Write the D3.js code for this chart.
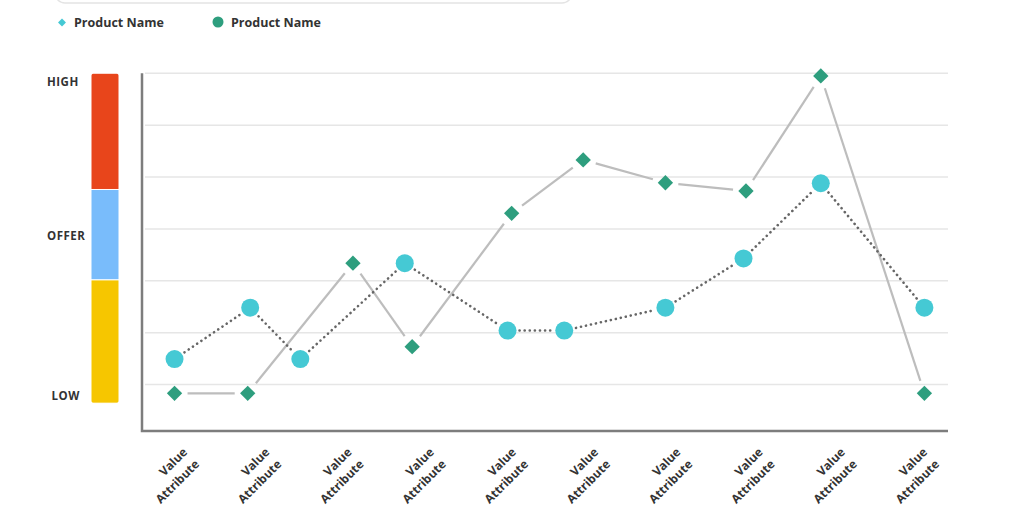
<!DOCTYPE html>
<html>
<head>
<meta charset="utf-8">
<script src="https://cdn.jsdelivr.net/npm/d3@7"></script>
<style>
  body { margin: 0; background: #fff; }
  text { font-family: "Open Sans", "Noto Sans", sans-serif; font-weight: 700; fill: #333; }
</style>
</head>
<body>
<svg id="chart" width="1024" height="528"></svg>
<script>
// categories along the bottom
var categories = ["Value Attribute", "Value Attribute", "Value Attribute", "Value Attribute", "Value Attribute",
                  "Value Attribute", "Value Attribute", "Value Attribute", "Value Attribute", "Value Attribute"];

// diamond series (solid grey line) - x is position in category units, y is value
var diamondX = [-0.03, 0.86, 2.14, 2.86, 4.07, 4.94, 5.94, 6.92, 7.83, 9.09];
var diamondY = [-0.17, -0.17, 2.34, 0.73, 3.30, 4.33, 3.89, 3.73, 5.95, -0.17];

// circle series (dotted line)
var circleX = [-0.03, 0.89, 1.50, 2.77, 4.02, 4.71, 5.94, 6.89, 7.83, 9.09];
var circleY = [0.49, 1.48, 0.49, 2.34, 1.04, 1.04, 1.48, 2.43, 3.88, 1.48];

// level bar on the left
var levelNames = ["LOW", "OFFER", "HIGH"];
var levelValues = [-0.22, 2.87, 5.84];
var bandNames = ["low", "offer", "high"];
var bandStart = [-0.36, 2.02, 3.76];
var bandEnd = [2.02, 3.76, 6.0];
var bandColors = ["#f6c600", "#79bcfb", "#e8451b"];

var legendNames = ["Product Name", "Product Name"];

var svg = d3.select("#chart");

var x = d3.scaleLinear().domain([0, 9]).range([177, 917]);
var y = d3.scaleLinear().domain([0, 6]).range([384.5, 73.3]);

var plotLeft = 142, plotRight = 948, plotBottom = 431;

// card edge at top
svg.append("rect")
    .attr("x", 55).attr("y", -30)
    .attr("width", 517).attr("height", 33)
    .attr("rx", 10)
    .attr("fill", "#fff")
    .attr("stroke", "#e4e4e4")
    .attr("stroke-width", 1.5);

// legend
var legend = svg.append("g");
legend.append("path")
    .attr("d", d3.symbol().type(d3.symbolDiamond2).size(40)())
    .attr("transform", "translate(62,22.5)")
    .attr("fill", "#45c9d4");
legend.append("text").attr("x", 74).attr("y", 27).attr("font-size", 12.5).attr("fill", "#3a3a3a").text(legendNames[0]);
legend.append("circle").attr("cx", 218).attr("cy", 22).attr("r", 5.5).attr("fill", "#2e9e7e");
legend.append("text").attr("x", 231).attr("y", 27).attr("font-size", 12.5).attr("fill", "#3a3a3a").text(legendNames[1]);

// gridlines
svg.append("g")
    .selectAll("line")
    .data(d3.range(0, 7))
    .enter().append("line")
    .attr("x1", plotLeft + 3).attr("x2", plotRight)
    .attr("y1", function(d) { return y(d); })
    .attr("y2", function(d) { return y(d); })
    .attr("stroke", "#e6e6e6")
    .attr("stroke-width", 1.5);

// axes lines
svg.append("path")
    .attr("d", "M" + plotLeft + "," + y(6) + "V" + plotBottom + "H" + plotRight)
    .attr("fill", "none")
    .attr("stroke", "#7d7d7d")
    .attr("stroke-width", 2.5);

// level bar
var bar = svg.append("g");
bar.append("clipPath").attr("id", "barclip")
    .append("rect")
    .attr("x", 91).attr("width", 28)
    .attr("y", y(bandEnd[2])).attr("height", y(bandStart[0]) - y(bandEnd[2]))
    .attr("rx", 4);
bar.selectAll("rect.band")
    .data(bandNames)
    .enter().append("rect")
    .attr("class", "band")
    .attr("clip-path", "url(#barclip)")
    .attr("x", 91).attr("width", 28)
    .attr("y", function(d, i) { return y(bandEnd[i]); })
    .attr("height", function(d, i) { return y(bandStart[i]) - y(bandEnd[i]); })
    .attr("fill", function(d, i) { return bandColors[i]; })
    .attr("stroke", "#fff")
    .attr("stroke-width", 1);

svg.append("g")
    .selectAll("text")
    .data(levelNames)
    .enter().append("text")
    .attr("x", function(d) { return d === "LOW" ? 51.5 : 47; })
    .attr("y", function(d, i) { return y(levelValues[i]) + 4.5; })
    .attr("font-size", 11.5)
    .attr("letter-spacing", 0.5)
    .text(function(d) { return d; });

// x labels
var xl = svg.append("g")
    .selectAll("g")
    .data(categories)
    .enter().append("g")
    .attr("transform", function(d, i) { return "translate(" + (x(i) + 11) + ",453) rotate(-45)"; });
xl.each(function(d) {
    var parts = d.split(" ");
    var g = d3.select(this);
    parts.forEach(function(p, k) {
        g.append("text")
            .attr("x", 0).attr("y", k * 17)
            .attr("text-anchor", "end")
            .attr("font-size", 12)
            .text(p);
    });
});

// segments between markers, trimmed so they stop short of the markers
function segments(xs, ys, gap) {
    var segs = [];
    for (var i = 0; i < xs.length - 1; i++) {
        var x1 = x(xs[i]), y1 = y(ys[i]), x2 = x(xs[i + 1]), y2 = y(ys[i + 1]);
        var dx = x2 - x1, dy = y2 - y1, len = Math.sqrt(dx * dx + dy * dy);
        var ux = dx / len, uy = dy / len;
        segs.push([x1 + ux * gap, y1 + uy * gap, x2 - ux * gap, y2 - uy * gap]);
    }
    return segs;
}

svg.append("g")
    .selectAll("line")
    .data(segments(diamondX, diamondY, 13))
    .enter().append("line")
    .attr("x1", function(d) { return d[0]; }).attr("y1", function(d) { return d[1]; })
    .attr("x2", function(d) { return d[2]; }).attr("y2", function(d) { return d[3]; })
    .attr("stroke", "#bdbdbd")
    .attr("stroke-width", 2.2);

svg.append("g")
    .selectAll("line")
    .data(segments(circleX, circleY, 12))
    .enter().append("line")
    .attr("x1", function(d) { return d[0]; }).attr("y1", function(d) { return d[1]; })
    .attr("x2", function(d) { return d[2]; }).attr("y2", function(d) { return d[3]; })
    .attr("stroke", "#666")
    .attr("stroke-width", 2.6)
    .attr("stroke-dasharray", "0.1,5")
    .attr("stroke-linecap", "round");

// markers
svg.append("g")
    .selectAll("path")
    .data(diamondY)
    .enter().append("path")
    .attr("d", d3.symbol().type(d3.symbolDiamond2).size(150)())
    .attr("transform", function(d, i) { return "translate(" + x(diamondX[i]) + "," + y(d) + ")"; })
    .attr("fill", "#2e9e7e");

svg.append("g")
    .selectAll("circle")
    .data(circleY)
    .enter().append("circle")
    .attr("cx", function(d, i) { return x(circleX[i]); })
    .attr("cy", function(d) { return y(d); })
    .attr("r", 9)
    .attr("fill", "#45c9d4");
</script>
</body>
</html>
